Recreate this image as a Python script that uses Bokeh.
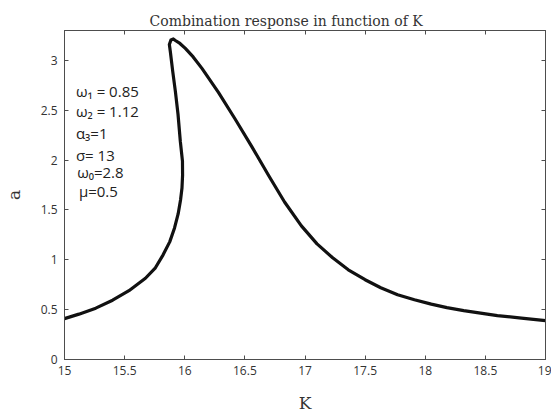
from bokeh.plotting import figure
from bokeh.models import LinearAxis, Range1d, FixedTicker, Label
from bokeh.embed import file_html
from bokeh.resources import INLINE

# curve, in order along the branch
K = [15.0, 15.12, 15.26, 15.40, 15.536, 15.673, 15.756, 15.82, 15.875, 15.915, 15.945,
     15.965, 15.977, 15.982, 15.981, 15.963, 15.944, 15.922, 15.90, 15.88, 15.872,
     15.885, 15.905, 15.922, 15.96, 16.005, 16.07, 16.143, 16.28, 16.42, 16.56,
     16.70, 16.83, 16.97, 17.10, 17.23, 17.36, 17.50, 17.63, 17.77, 17.91,
     18.05, 18.18, 18.32, 18.46, 18.60, 18.80, 19.0]
a = [0.41, 0.455, 0.515, 0.595, 0.69, 0.815, 0.92, 1.05, 1.18, 1.32, 1.46,
     1.60, 1.72, 1.85, 1.99, 2.19, 2.46, 2.69, 2.89, 3.09, 3.16,
     3.205, 3.215, 3.20, 3.17, 3.12, 3.035, 2.92, 2.68, 2.41, 2.13,
     1.84, 1.58, 1.34, 1.16, 1.02, 0.90, 0.80, 0.72, 0.65, 0.60,
     0.555, 0.52, 0.49, 0.465, 0.44, 0.415, 0.39]

x_ticks = [15, 15.5, 16, 16.5, 17, 17.5, 18, 18.5, 19]
y_ticks = [0, 0.5, 1, 1.5, 2, 2.5, 3]
notes = ["ω₁ = 0.85", "ω₂ = 1.12", "α₃=1", "σ= 13", "ω₀=2.8", "μ=0.5"]
note_y = [2.69, 2.49, 2.27, 2.05, 1.88, 1.69]
note_x = [15.095, 15.095, 15.095, 15.095, 15.105, 15.12]

AX = "#4d4d4d"
TXT = "#333333"

p = figure(width=551, height=417, output_backend="svg", toolbar_location=None,
           x_range=Range1d(15, 19), y_range=Range1d(0, 3.3),
           min_border_left=62, min_border_right=6, min_border_top=30, min_border_bottom=58,
           title="Combination response in function of K")
p.title.align = "left"
p.title.offset = 85
p.title.text_font = "DejaVu Serif"
p.title.text_font_style = "normal"
p.title.text_font_size = "14px"
p.title.text_color = "#333333"
p.title.standoff = 4

p.grid.visible = False
p.outline_line_color = AX
p.background_fill_color = "white"
p.border_fill_color = "white"

for ax in (p.xaxis[0], p.yaxis[0]):
    ax.axis_line_color = AX
    ax.major_tick_line_color = AX
    ax.major_tick_in = 4
    ax.major_tick_out = 0
    ax.minor_tick_line_color = None
    ax.major_label_text_font = "Open Sans"
    ax.major_label_text_font_size = "12px"
    ax.major_label_text_color = TXT
    ax.axis_label_text_font = "DejaVu Serif"
    ax.axis_label_text_font_style = "normal"
    ax.axis_label_text_font_size = "17px"
    ax.axis_label_text_color = TXT

p.xaxis[0].ticker = FixedTicker(ticks=x_ticks)
p.yaxis[0].ticker = FixedTicker(ticks=y_ticks)
p.xaxis[0].major_label_overrides = {15: "15", 16: "16", 17: "17", 18: "18", 19: "19"}
p.yaxis[0].major_label_overrides = {0: "0", 1: "1", 2: "2", 3: "3"}
p.xaxis[0].axis_label = "K"
p.yaxis[0].axis_label = "a"
p.xaxis[0].major_label_standoff = 6
p.yaxis[0].major_label_standoff = 7
p.xaxis[0].axis_label_standoff = 15
p.yaxis[0].axis_label_standoff = 14

top = LinearAxis(ticker=FixedTicker(ticks=x_ticks),
                 major_label_overrides={t: "" for t in x_ticks},
                 major_tick_in=4, major_tick_out=0, minor_tick_line_color=None,
                 axis_line_color=AX, major_tick_line_color=AX, major_label_standoff=0)
right = LinearAxis(ticker=FixedTicker(ticks=y_ticks),
                   major_label_overrides={t: "" for t in y_ticks},
                   major_tick_in=4, major_tick_out=0, minor_tick_line_color=None,
                   axis_line_color=AX, major_tick_line_color=AX, major_label_standoff=0)
p.add_layout(top, "above")
p.add_layout(right, "right")

p.line(K, a, line_color="#111111", line_width=3.2, line_join="round", line_cap="round")

for t, xx, yy in zip(notes, note_x, note_y):
    p.add_layout(Label(x=xx, y=yy, text=t, text_font="Open Sans", text_font_size="15px",
                       text_color="#222222", text_baseline="middle"))

open("out.html", "w").write(file_html(p, INLINE))
